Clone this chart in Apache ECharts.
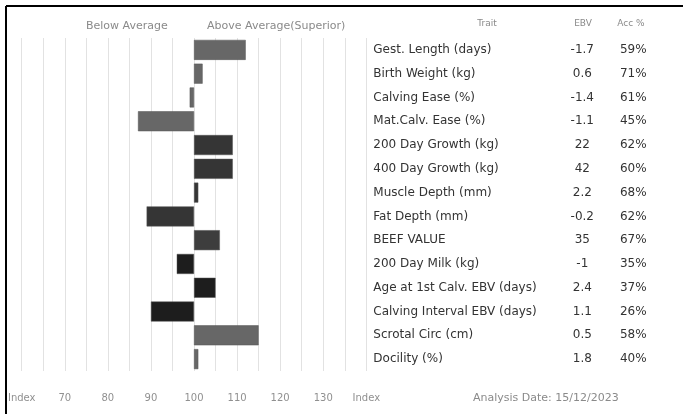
<!DOCTYPE html>
<html>
<head>
<meta charset="utf-8">
<script src="https://cdn.jsdelivr.net/npm/echarts@6/dist/echarts.min.js"></script>
<style>
html,body{margin:0;padding:0;background:#fff;}
#chart{width:683px;height:414px;}
</style>
</head>
<body>
<div id="chart"></div>
<script>
// ---- data ----
const traits = ['Gest. Length (days)','Birth Weight (kg)','Calving Ease (%)','Mat.Calv. Ease (%)','200 Day Growth (kg)','400 Day Growth (kg)','Muscle Depth (mm)','Fat Depth (mm)','BEEF VALUE','200 Day Milk (kg)','Age at 1st Calv. EBV (days)','Calving Interval EBV (days)','Scrotal Circ (cm)','Docility (%)'];
const ebv = ['-1.7','0.6','-1.4','-1.1','22','42','2.2','-0.2','35','-1','2.4','1.1','0.5','1.8'];
const acc = ['59%','71%','61%','45%','62%','60%','68%','62%','67%','35%','37%','26%','58%','40%'];
const indexValues = [112,102,99,87,109,109,101,89,106,96,105,90,115,101];
const axisTicks = [60,70,80,90,100,110,120,130,140];
const AVERAGE = 100;

// ---- style ----
const barColors = ['#676767','#676767','#676767','#676767','#353535','#353535','#353535','#353535','#3d3d3d','#1d1d1d','#1d1d1d','#1d1d1d','#676767','#676767'];
const FONT = 'DejaVu Sans';

const chart = echarts.init(document.getElementById('chart'));
const cat = traits.map((t,i)=>i);
chart.setOption({
  animation:false,
  backgroundColor:'#fff',
  grid:{left:21.7,right:316.7,top:38,bottom:43,containLabel:false},
  xAxis:{
    type:'value', min:axisTicks[0]-AVERAGE, max:axisTicks[axisTicks.length-1]-AVERAGE, interval:5,
    axisLine:{show:false}, axisTick:{show:false},
    splitLine:{show:true,lineStyle:{color:'#e2e2e2',width:1}},
    axisLabel:{
      margin:22, color:'#909090', fontSize:10, fontFamily:FONT,
      formatter:function(v){
        const real = v+AVERAGE;
        if(real===axisTicks[0]||real===axisTicks[axisTicks.length-1]) return 'Index';
        return axisTicks.indexOf(real)>=0 ? String(real) : '';
      }
    }
  },
  yAxis:[
    {type:'category',inverse:true,data:cat,axisLine:{show:false},axisTick:{show:false},axisLabel:{show:false}},
    {type:'category',inverse:true,position:'right',data:traits,axisLine:{show:false},axisTick:{show:false},
      axisLabel:{margin:7,color:'#333',fontSize:12,fontFamily:FONT,align:'left'}},
    {type:'category',inverse:true,position:'right',data:ebv,axisLine:{show:false},axisTick:{show:false},
      axisLabel:{margin:216,color:'#333',fontSize:12,fontFamily:FONT,align:'center'}},
    {type:'category',inverse:true,position:'right',data:acc,axisLine:{show:false},axisTick:{show:false},
      axisLabel:{margin:267,color:'#333',fontSize:12,fontFamily:FONT,align:'center'}}
  ],
  series:[{
    type:'bar', yAxisIndex:0, barWidth:20,
    data:indexValues.map((v,i)=>({value:v-AVERAGE,itemStyle:{color:barColors[i],borderColor:'#555',borderWidth:0.5}}))
  }],
  graphic:[
    {type:'line',shape:{x1:6,y1:6,x2:683,y2:6},style:{stroke:'#000',lineWidth:2}},
    {type:'line',shape:{x1:6,y1:6,x2:6,y2:414},style:{stroke:'#000',lineWidth:2}},
    {type:'text',x:86,y:26,style:{text:'Below Average',fill:'#8a8a8a',fontSize:11,fontFamily:FONT,verticalAlign:'middle'}},
    {type:'text',x:207,y:26,style:{text:'Above Average(Superior)',fill:'#8a8a8a',fontSize:11,fontFamily:FONT,verticalAlign:'middle'}},
    {type:'text',x:487,y:24,style:{text:'Trait',fill:'#8a8a8a',fontSize:9,fontFamily:FONT,align:'center',verticalAlign:'middle'}},
    {type:'text',x:583,y:24,style:{text:'EBV',fill:'#8a8a8a',fontSize:9,fontFamily:FONT,align:'center',verticalAlign:'middle'}},
    {type:'text',x:631,y:24,style:{text:'Acc %',fill:'#8a8a8a',fontSize:9,fontFamily:FONT,align:'center',verticalAlign:'middle'}},
    {type:'text',x:473,y:398,style:{text:'Analysis Date: 15/12/2023',fill:'#8a8a8a',fontSize:11,fontFamily:FONT,verticalAlign:'middle'}}
  ]
});
</script>
</body>
</html>
